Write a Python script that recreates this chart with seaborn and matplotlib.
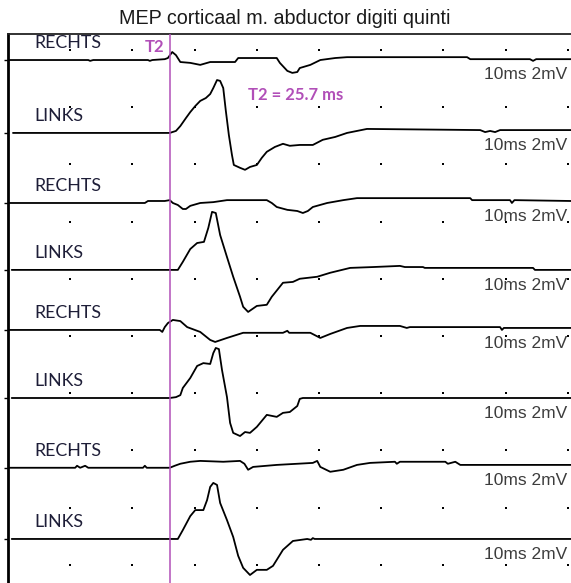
import numpy as np
import pandas as pd
import matplotlib
matplotlib.use("Agg")
import matplotlib.pyplot as plt
import seaborn as sns

TITLE = "MEP corticaal m. abductor digiti quinti"
SIDES = ["RECHTS", "LINKS", "RECHTS", "LINKS", "RECHTS", "LINKS", "RECHTS", "LINKS"]
SCALE_LABEL = "10ms 2mV"
T2_MS = 25.7
T2_CURSOR_MS = 26.0

# baseline of each trace (mV, stacked from the top of the screen)
OFFSETS = [-0.91, -3.46, -5.91, -8.25, -10.35, -12.73, -15.17, -17.66]

# screen grid: 10 ms / 2 mV divisions
GRID_MS = [10, 20, 30, 40, 50, 60, 70, 80, 90]
GRID_MV = [-0.56, -2.56, -4.56, -6.56, -8.56, -10.56, -12.56, -14.56, -16.56, -18.56]

# traces: time (ms) and amplitude (mV) around the baseline
TRACE1_T = [0, 12.9, 13.2, 13.7, 22.5, 22.8, 23.2, 25.2, 25.7, 26.4, 27.0, 27.7, 29.3, 30.9,
            32.5, 36.5, 37.0, 43.2, 43.7, 44.9, 45.7, 46.5, 46.9, 48.6, 50.2, 52.6, 54.5,
            73.8, 74.3, 83.9, 84.4, 84.9, 90.5]
TRACE1_MV = [0, 0, -0.03, 0, 0, -0.03, 0, 0.03, 0.07, 0.28, 0.17, -0.07, -0.10, -0.17,
             -0.07, -0.07, 0.07, 0.07, -0.10, -0.38, -0.45, -0.42, -0.28, -0.17, 0, 0.07, 0.10,
             0.10, 0.03, 0.03, -0.03, 0.03, 0.03]

TRACE2_T = [0.8, 26.0, 27.0, 27.7, 28.6, 29.3, 30.1, 30.9, 31.8, 32.5, 33.0, 33.6, 34.1, 34.6,
            35.0, 35.5, 36.0, 36.3, 37.3, 38.1, 38.9, 40.0, 40.8, 41.6, 42.9, 44.2, 45.3, 46.9,
            49.0, 50.6, 52.6, 54.5, 57.7, 75.9, 76.7, 77.5, 78.3, 79.1, 90.5]
TRACE2_MV = [0, 0, 0.07, 0.24, 0.52, 0.73, 0.94, 1.12, 1.22, 1.36, 1.57, 1.85, 1.82, 1.57,
             0.80, -0.07, -0.77, -1.12, -1.22, -1.29, -1.19, -1.12, -0.87, -0.66, -0.49, -0.38,
             -0.45, -0.42, -0.42, -0.24, -0.14, 0, 0.14, 0.10, 0.03, 0.07, 0.03, 0.10, 0.10]

TRACE3_T = [0, 22.0, 22.5, 25.2, 26.0, 26.5, 27.3, 28.1, 28.6, 29.3, 30.9, 33.0, 35.2, 41.6,
            42.4, 43.2, 44.9, 46.5, 47.4, 48.2, 49.0, 51.3, 53.9, 56.1, 74.3, 74.6, 80.7, 81.0,
            81.4, 90.5]
TRACE3_MV = [0, 0, 0.07, 0.07, 0.10, 0, -0.07, -0.21, -0.21, -0.10, 0, 0.03, 0.10, 0.10,
             0, -0.14, -0.24, -0.28, -0.35, -0.28, -0.14, 0, 0.10, 0.17, 0.17, 0.10, 0.10, 0,
             0.10, 0.07]

TRACE4_T = [0.6, 27.3, 28.1, 29.3, 30.4, 31.5, 32.2, 32.8, 33.4, 34.1, 35.2, 36.2, 37.3, 37.8,
            38.6, 40.0, 41.6, 42.4, 44.2, 45.8, 46.9, 48.1, 49.7, 51.8, 55.0, 58.7, 63.0, 63.8,
            66.7, 67.0, 84.4, 84.7, 90.5]
TRACE4_MV = [0, 0, 0.28, 0.73, 0.94, 0.98, 1.47, 2.03, 1.99, 1.22, 0.45, -0.24, -0.94, -1.29,
             -1.47, -1.26, -1.22, -0.94, -0.45, -0.42, -0.31, -0.28, -0.24, -0.10, 0.07, 0.10,
             0.14, 0.10, 0.10, 0.07, 0.07, 0, 0]

TRACE5_T = [0, 24.4, 24.8, 25.2, 25.7, 26.5, 27.7, 28.8, 30.9, 32.5, 33.3, 35.2, 37.8, 44.2,
            44.9, 45.2, 48.6, 50.2, 51.8, 54.5, 56.6, 63.0, 64.1, 64.6, 79.1, 79.4, 79.7, 90.5]
TRACE5_MV = [0, 0, -0.07, 0.10, 0.24, 0.35, 0.31, 0.10, -0.07, -0.35, -0.42, -0.28, -0.10,
             -0.10, -0.03, -0.10, -0.10, -0.28, -0.14, 0.07, 0.14, 0.14, 0.07, 0.10, 0.10, 0,
             0.07, 0.07]

TRACE6_T = [0.6, 26.0, 27.0, 27.7, 28.1, 29.3, 30.4, 31.4, 32.5, 33.0, 33.4, 33.9, 34.4, 35.2,
            35.7, 36.2, 37.3, 38.1, 38.9, 40.0, 41.6, 43.2, 44.2, 45.3, 46.5, 46.9, 47.4, 90.5]
TRACE6_MV = [0, 0, 0.03, 0.10, 0.35, 0.70, 1.12, 1.22, 1.19, 1.57, 1.75, 1.71, 0.98, 0.03,
             -0.87, -1.22, -1.33, -1.19, -1.22, -1.01, -0.59, -0.66, -0.52, -0.49, -0.28, -0.03,
             0, 0]

TRACE7_T = [0, 10.8, 11.1, 11.6, 12.4, 12.9, 21.7, 22.0, 22.3, 26.0, 26.8, 27.7, 29.3, 30.9,
            34.6, 37.3, 38.0, 38.6, 39.4, 43.2, 49.0, 49.7, 50.2, 51.8, 53.9, 56.1, 58.2, 62.2,
            62.5, 63.0, 70.3, 70.7, 71.9, 72.7, 90.5]
TRACE7_MV = [0, 0, 0.07, 0, 0.07, 0, 0, 0.07, 0, 0, 0.07, 0.14, 0.21, 0.24,
             0.21, 0.24, 0.14, -0.07, 0.03, 0.10, 0.17, 0.24, 0.03, -0.14, -0.07, 0.10, 0.17, 0.21,
             0.14, 0.21, 0.21, 0.14, 0.21, 0.10, 0.10]

TRACE8_T = [0.6, 27.3, 28.1, 29.3, 30.1, 31.4, 32.0, 32.5, 33.0, 33.6, 34.1, 35.2, 36.2, 37.0,
            37.8, 38.9, 40.0, 41.6, 42.6, 44.2, 45.8, 48.1, 48.7, 49.0, 49.3, 90.5]
TRACE8_MV = [0, 0, 0.31, 0.80, 1.01, 1.01, 1.36, 1.82, 1.96, 1.89, 1.26, 0.66, 0.07, -0.59,
             -1.01, -1.26, -1.08, -1.08, -0.94, -0.38, -0.07, 0, -0.03, 0.03, 0, 0]

TRACES = [(TRACE1_T, TRACE1_MV), (TRACE2_T, TRACE2_MV), (TRACE3_T, TRACE3_MV),
          (TRACE4_T, TRACE4_MV), (TRACE5_T, TRACE5_MV), (TRACE6_T, TRACE6_MV),
          (TRACE7_T, TRACE7_MV), (TRACE8_T, TRACE8_MV)]

PURPLE = "#b14fb8"

sns.set_theme(style="white")
plt.rcParams["font.family"] = ["Liberation Sans", "DejaVu Sans"]

frames = []
for i, (t, mv) in enumerate(TRACES):
    frames.append(pd.DataFrame({"ms": t, "mV": np.array(mv) + OFFSETS[i], "trace": i}))
df = pd.concat(frames, ignore_index=True)

gx, gy = np.meshgrid(GRID_MS, GRID_MV)

fig = plt.figure(figsize=(5.71, 5.83), dpi=100)
ax = fig.add_axes([8 / 571, 0, 563 / 571, 549 / 583])

sns.scatterplot(x=gx.ravel(), y=gy.ravel(), marker="s", s=3.5, color="black",
                linewidth=0, ax=ax, zorder=2)
sns.lineplot(data=df, x="ms", y="mV", units="trace", estimator=None, sort=False,
             color="black", lw=1.3, ax=ax, zorder=3)
ax.axvline(T2_CURSOR_MS, color=PURPLE, lw=1.1, zorder=4)

ax.set_xlim(0, 90.5)
ax.set_ylim(-19.2, 0)
ax.set_xlabel("")
ax.set_ylabel("")
ax.set_xticks([])
ax.set_yticks(OFFSETS)
ax.tick_params(axis="y", direction="out", length=3, width=1.0, left=True,
               labelleft=False, color="black")
for side in ["right", "bottom"]:
    ax.spines[side].set_visible(False)
ax.spines["top"].set_linewidth(1.3)
ax.spines["top"].set_color("#222222")
ax.spines["left"].set_linewidth(2.0)
ax.spines["left"].set_color("black")

for i, side in enumerate(SIDES):
    ax.text(4.3, OFFSETS[i] + 0.58, side, ha="left", va="center", fontsize=12.8,
            family=["Lato", "DejaVu Sans"], color="#1e1e38", zorder=5)
    end = OFFSETS[i] + TRACES[i][1][-1]
    ax.text(89.9, end - 0.55, SCALE_LABEL, ha="right", va="center", fontsize=12.5,
            color="#3c3c3c", zorder=5)

ax.text(25.1, -0.45, "T2", ha="right", va="center", fontsize=12, fontweight="bold",
        family=["Lato", "DejaVu Sans"], color=PURPLE, zorder=5)
ax.text(38.6, -2.13, f"T2 = {T2_MS} ms", ha="left", va="center", fontsize=12,
        fontweight="bold", family=["Lato", "DejaVu Sans"], color=PURPLE, zorder=5)

fig.text(285 / 571, 1 - 19 / 583, TITLE, ha="center", va="center", fontsize=14.2,
         color="#1a1a1a")

fig.savefig("out.png", dpi=100)
